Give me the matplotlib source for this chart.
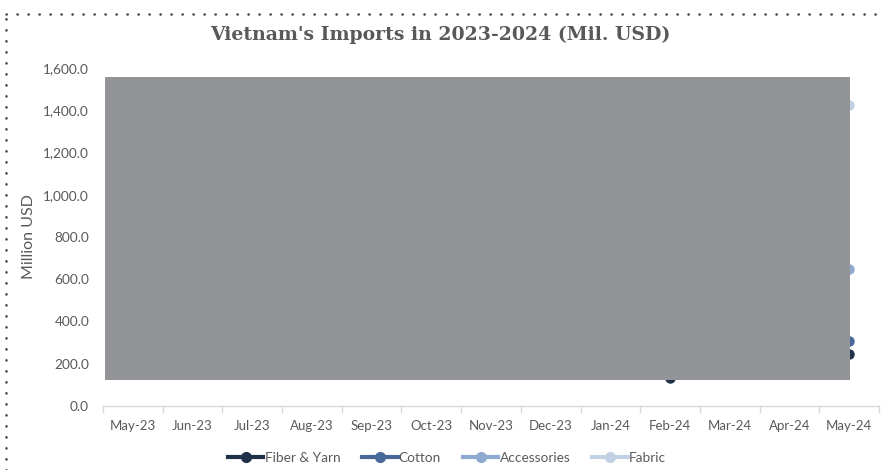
import matplotlib
matplotlib.use("Agg")
import matplotlib.pyplot as plt
from matplotlib.lines import Line2D
from matplotlib.patches import Rectangle
from matplotlib.ticker import FuncFormatter, FixedLocator

months = ["May-23", "Jun-23", "Jul-23", "Aug-23", "Sep-23", "Oct-23", "Nov-23",
          "Dec-23", "Jan-24", "Feb-24", "Mar-24", "Apr-24", "May-24"]
fiber_yarn = [215, 200, 205, 220, 210, 230, 225, 235, 240, 130, 225, 235, 245]
cotton = [290, 260, 255, 270, 250, 280, 300, 320, 330, 210, 300, 290, 307]
accessories = [560, 540, 560, 600, 560, 570, 580, 590, 640, 380, 620, 600, 650]
fabric = [1250, 1200, 1220, 1300, 1180, 1250, 1280, 1300, 1380, 800, 1300, 1350, 1425]
series_names = ["Fiber & Yarn", "Cotton", "Accessories", "Fabric"]
series_colors = ["#1f3049", "#46699a", "#8eaad0", "#c3d1e4"]
y_ticks = [0, 200, 400, 600, 800, 1000, 1200, 1400, 1600]

# grey occluding box (x in category units, y in data units)
box_x = (-0.47, 12.02)
box_y = (121.5, 1560)

fig = plt.figure(figsize=(8.81, 4.70), dpi=100)
ax = fig.add_axes([103 / 881, 1 - 405.7 / 470, 776 / 881, (405.7 - 68.3) / 470])

x = list(range(len(months)))
for vals, name, col in zip([fiber_yarn, cotton, accessories, fabric], series_names, series_colors):
    ax.plot(x, vals, color=col, lw=2.2, marker="o", ms=6.5, label=name, zorder=3)

ax.add_patch(Rectangle((box_x[0], box_y[0]), box_x[1] - box_x[0], box_y[1] - box_y[0],
                       facecolor="#939497", edgecolor="none", zorder=5))

ax.set_xlim(-0.5, len(months) - 0.5)
ax.set_ylim(0, 1600)
ax.set_yticks(y_ticks)
ax.yaxis.set_major_formatter(FuncFormatter(lambda v, p: f"{v:,.1f}"))
ax.set_xticks(x)
ax.set_xticklabels(months)
ax.xaxis.set_minor_locator(FixedLocator([i - 0.5 for i in range(len(months) + 1)]))

tick_font = "Lato"
for lab in ax.get_xticklabels():
    lab.set_fontfamily(tick_font)
    lab.set_fontsize(9.5)
    lab.set_color("#595959")
for lab in ax.get_yticklabels():
    lab.set_fontfamily(tick_font)
    lab.set_fontsize(9.8)
    lab.set_color("#595959")

ax.tick_params(axis="y", length=0, pad=10)
ax.tick_params(axis="x", which="major", length=0, pad=10)
ax.tick_params(axis="x", which="minor", length=5, color="#d9d9d9", width=1)
for s in ["top", "right", "left"]:
    ax.spines[s].set_visible(False)
ax.spines["bottom"].set_color("#d9d9d9")
ax.spines["bottom"].set_linewidth(1)

ax.set_ylabel("Million USD", fontfamily=tick_font, fontsize=11.5, color="#595959", labelpad=5)

fig.text(440 / 881, 1 - 35 / 470, "Vietnam's Imports in 2023-2024 (Mil. USD)",
         ha="center", va="center", fontsize=13.6, fontweight="bold",
         fontfamily="DejaVu Serif", color="#595959")

handles = [Line2D([0], [0], color=c, lw=3, marker="o", ms=7) for c in series_colors]
leg = fig.legend(handles, series_names, loc="center", bbox_to_anchor=(447 / 881, 1 - 458 / 470),
                 ncol=4, frameon=False, handlelength=2.6, handletextpad=0.1, columnspacing=1.6,
                 prop={"family": tick_font, "size": 9.8})
for t in leg.get_texts():
    t.set_color("#595959")

# dotted frame
fig.add_artist(Line2D([6 / 881, 1], [1 - 14 / 470, 1 - 14 / 470], transform=fig.transFigure,
                      color="#404040", lw=1.8, linestyle=(0, (0.1, 4.3)), dash_capstyle="round"))
fig.add_artist(Line2D([6 / 881, 6 / 881], [0, 1 - 14 / 470], transform=fig.transFigure,
                      color="#404040", lw=1.8, linestyle=(0, (0.1, 4.3)), dash_capstyle="round"))

fig.savefig("out.png", dpi=100)
